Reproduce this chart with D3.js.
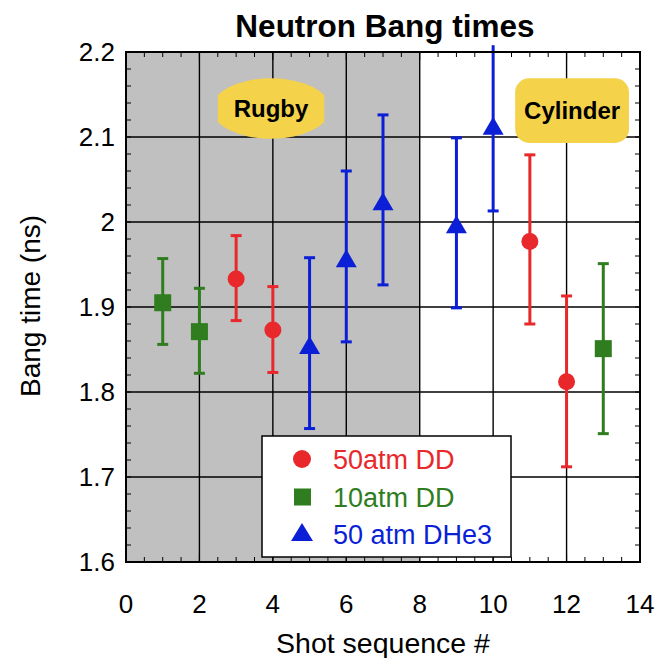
<!DOCTYPE html>
<html><head><meta charset="utf-8">
<script src="https://cdn.jsdelivr.net/npm/d3@7"></script>
<style>body{margin:0;background:#fff}svg{display:block}text{font-family:"Liberation Sans",Arial,sans-serif}</style>
</head><body><svg id="c" width="668" height="658"></svg>
<script>
const xTicks = [0,2,4,6,8,10,12,14];
const yTicks = [1.6,1.7,1.8,1.9,2.0,2.1,2.2];
const yTickLabels = ["1.6","1.7","1.8","1.9","2","2.1","2.2"];

const dd50X = [3,4,11,12];
const dd50Y = [1.933,1.873,1.977,1.812];
const dd50Lo = [1.884,1.823,1.880,1.712];
const dd50Hi = [1.984,1.924,2.079,1.913];

const dd10X = [1,2,13];
const dd10Y = [1.905,1.871,1.851];
const dd10Lo = [1.856,1.822,1.751];
const dd10Hi = [1.957,1.922,1.951];

const dhe3X = [5,6,7,9,10];
const dhe3Y = [1.853,1.955,2.022,1.995,2.111];
const dhe3Lo = [1.757,1.859,1.926,1.899,2.013];
const dhe3Hi = [1.958,2.060,2.126,2.099,2.208];

const seriesNames = ["50atm DD","10atm DD","50 atm DHe3"];
const regionLabels = ["Rugby","Cylinder"];

const colors = {red:"#e8282b", green:"#2f7d1f", blue:"#0b1fd6"};

const svg = d3.select("#c");
const L=126,R=640,T=52,B=562;
const x = d3.scaleLinear().domain([0,14]).range([L,R]);
const y = d3.scaleLinear().domain([1.6,2.2]).range([B,T]);

// shaded region
svg.append("rect").attr("x",x(0)).attr("y",T).attr("width",x(8)-x(0)).attr("height",B-T).attr("fill","#c0c0c0");

// grid
svg.append("g").selectAll("line").data(xTicks.filter(d=>d>0&&d<14)).join("line")
  .attr("x1",d=>x(d)).attr("x2",d=>x(d)).attr("y1",T).attr("y2",B).attr("stroke","#000").attr("stroke-width",1.4);
svg.append("g").selectAll("line").data(yTicks.filter(d=>d>1.6&&d<2.2)).join("line")
  .attr("y1",d=>y(d)).attr("y2",d=>y(d)).attr("x1",L).attr("x2",R).attr("stroke","#000").attr("stroke-width",1.4);

// minor ticks
const xMinor = d3.range(0,14.01,0.5);
const yMinor = d3.range(1.6,2.2001,0.02);
const tk = svg.append("g").attr("stroke","#000").attr("stroke-width",1);
xMinor.forEach(v=>{
  const len = (Math.abs(v%2)<1e-6)?8:5;
  tk.append("line").attr("x1",x(v)).attr("x2",x(v)).attr("y1",B).attr("y2",B-len);
  tk.append("line").attr("x1",x(v)).attr("x2",x(v)).attr("y1",T).attr("y2",T+len);
});
yMinor.forEach(v=>{
  tk.append("line").attr("y1",y(v)).attr("y2",y(v)).attr("x1",L).attr("x2",L+5);
  tk.append("line").attr("y1",y(v)).attr("y2",y(v)).attr("x1",R).attr("x2",R-5);
});

// region labels
const defs = svg.append("defs");
const rx0=x(2.5), rx1=x(5.4), ry0=y(2.169), ry1=y(2.098);
defs.append("clipPath").attr("id","rugClip").append("rect").attr("x",rx0).attr("y",ry0-2).attr("width",rx1-rx0).attr("height",ry1-ry0+4);
const lab = svg.append("g");
lab.append("ellipse").attr("clip-path","url(#rugClip)").attr("cx",(rx0+rx1)/2).attr("cy",(ry0+ry1)/2)
  .attr("rx",(rx1-rx0)/2*1.12).attr("ry",(ry1-ry0)/2).attr("fill","#f4d24a");
lab.append("text").attr("x",(rx0+rx1)/2).attr("y",(ry0+ry1)/2).attr("dy","0.36em").attr("text-anchor","middle")
  .attr("font-size",24).attr("font-weight","bold").text(regionLabels[0]);
lab.append("rect").attr("x",x(10.6)).attr("y",y(2.169)).attr("width",x(13.7)-x(10.6)).attr("height",y(2.093)-y(2.169))
  .attr("rx",14).attr("fill","#f4d24a");
lab.append("text").attr("x",x(12.15)).attr("y",y(2.131)).attr("dy","0.36em").attr("text-anchor","middle")
  .attr("font-size",24).attr("font-weight","bold").text(regionLabels[1]);

// data
function drawSeries(xs,ys,lo,hi,color,shape){
  const g = svg.append("g");
  xs.forEach((xv,i)=>{
    const cx=x(xv);
    g.append("line").attr("x1",cx).attr("x2",cx).attr("y1",y(lo[i])).attr("y2",y(hi[i])).attr("stroke",color).attr("stroke-width",3);
    [lo[i],hi[i]].forEach(v=>{ if(v<=2.2) g.append("line").attr("x1",cx-5.5).attr("x2",cx+5.5).attr("y1",y(v)).attr("y2",y(v)).attr("stroke",color).attr("stroke-width",3);});
    const cy=y(ys[i]);
    if(shape==="circle") g.append("circle").attr("cx",cx).attr("cy",cy).attr("r",8.5).attr("fill",color);
    else if(shape==="square") g.append("rect").attr("x",cx-8.5).attr("y",cy-8.5).attr("width",17).attr("height",17).attr("fill",color);
    else g.append("path").attr("d",`M${cx},${cy-11}L${cx+10.5},${cy+7}L${cx-10.5},${cy+7}Z`).attr("fill",color);
  });
}
drawSeries(dd50X,dd50Y,dd50Lo,dd50Hi,colors.red,"circle");
drawSeries(dd10X,dd10Y,dd10Lo,dd10Hi,colors.green,"square");
drawSeries(dhe3X,dhe3Y,dhe3Lo,dhe3Hi,colors.blue,"triangle");

// frame
svg.append("rect").attr("x",L).attr("y",T).attr("width",R-L).attr("height",B-T).attr("fill","none").attr("stroke","#000").attr("stroke-width",2);

// legend
const lg = svg.append("g");
lg.append("rect").attr("x",262).attr("y",436).attr("width",249).attr("height",121).attr("fill","#fff").attr("stroke","#000").attr("stroke-width",1.5);
const lcols=[colors.red,colors.green,colors.blue];
const ly=[459,497,534];
lg.append("circle").attr("cx",302).attr("cy",ly[0]).attr("r",9).attr("fill",lcols[0]);
lg.append("rect").attr("x",294).attr("y",ly[1]-8.5).attr("width",17).attr("height",17).attr("fill",lcols[1]);
lg.append("path").attr("d",`M302,${ly[2]-11}L313,${ly[2]+7}L291,${ly[2]+7}Z`).attr("fill",lcols[2]);
seriesNames.forEach((s,i)=>lg.append("text").attr("x",333).attr("y",ly[i]).attr("dy","0.36em").attr("font-size",27).attr("fill",lcols[i]).text(s));

// axes labels
svg.append("g").selectAll("text").data(xTicks).join("text")
  .attr("x",d=>x(d)).attr("y",613).attr("text-anchor","middle").attr("font-size",26).text(d=>d);
svg.append("g").selectAll("text").data(yTicks).join("text")
  .attr("x",115).attr("y",d=>y(d)).attr("dy","0.36em").attr("text-anchor","end").attr("font-size",26).text((d,i)=>yTickLabels[i]);

svg.append("text").attr("x",383).attr("y",653).attr("text-anchor","middle").attr("font-size",28.5).text("Shot sequence #");
svg.append("text").attr("transform","translate(40,306) rotate(-90)").attr("text-anchor","middle").attr("font-size",28).text("Bang time (ns)");
svg.append("text").attr("x",385).attr("y",37).attr("text-anchor","middle").attr("font-size",31.5).attr("font-weight","bold").text("Neutron Bang times");
</script></body></html>
